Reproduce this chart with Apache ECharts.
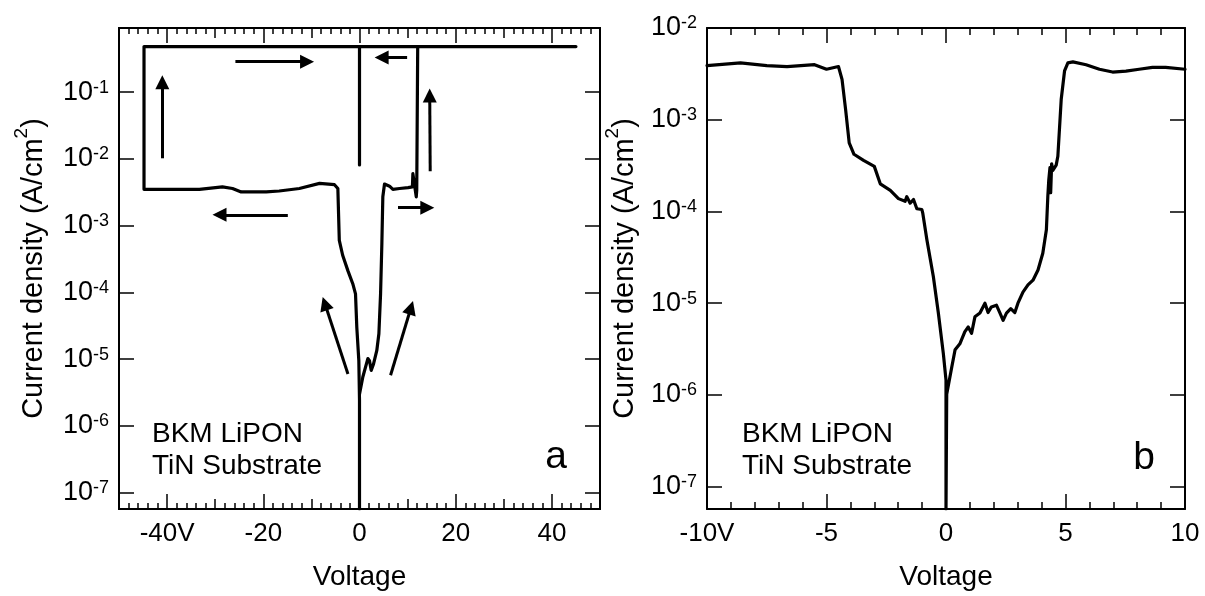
<!DOCTYPE html>
<html>
<head>
<meta charset="utf-8">
<script src="https://cdn.jsdelivr.net/npm/echarts@6.0.0/dist/echarts.min.js"></script>
<style>
  html, body { margin: 0; padding: 0; background: #fff; }
  #main { width: 1205px; height: 596px; }
</style>
</head>
<body>
<div id="main"></div>
<script>
// panel a : voltage sweep +-45 V
var aNegV = [0, 0, -0.14, -0.56, -0.83, -1.4, -2.4, -3.5, -4.2, -4.5, -5.2, -8.3, -12.5, -16.7, -19.4, -24.6, -26.4, -28.5, -33.3, -44.8, -44.8, 45];
var aNegJ = [5.7e-8, 2.4e-6, 9.5e-6, 3.0e-5, 9.5e-5, 1.35e-4, 2.1e-4, 3.6e-4, 6.0e-4, 3.6e-3, 4.1e-3, 4.3e-3, 3.6e-3, 3.3e-3, 3.2e-3, 3.2e-3, 3.6e-3, 3.8e-3, 3.5e-3, 3.5e-3, 0.48, 0.48];
var aPosV = [0, 0.69, 1.74, 2.08, 2.43, 2.92, 3.6, 4.03, 4.38, 4.65, 4.85, 5.2, 6.25, 6.94, 8.33, 10.1, 11.0, 11.1, 11.5, 11.8, 11.9, 12.1];
var aPosJ = [3.0e-6, 5.4e-6, 1.02e-5, 9.5e-6, 6.8e-6, 8.5e-6, 1.35e-5, 2.4e-5, 9.5e-5, 5.4e-4, 2.7e-3, 4.2e-3, 3.9e-3, 3.5e-3, 3.6e-3, 3.7e-3, 3.8e-3, 6.0e-3, 5.8e-3, 2.7e-3, 3.4e-3, 0.48];
var aDropV = [0, 0];
var aDropJ = [0.48, 8.1e-3];
// arrows [V1, J1, V2, J2] (tail -> head)
var aArrows = [
  [-25.8, 0.285, -10.9, 0.285],
  [-41, 0.0102, -41, 0.141],
  [-14.9, 1.45e-3, -29.1, 1.45e-3],
  [9.9, 0.33, 4.6, 0.33],
  [14.7, 6.5e-3, 14.6, 0.089],
  [8.0, 1.86e-3, 14.1, 1.86e-3],
  [-2.4, 6.0e-6, -7.2, 6.8e-5],
  [6.46, 5.75e-6, 10.7, 5.9e-5]
];

// panel b : voltage sweep +-10 V
var bV = [-10, -8.6, -7.5, -6.65, -5.5, -5.0, -4.5, -4.35, -4.2, -4.05, -3.85, -3.45, -3.0, -2.75, -2.33, -1.99, -1.71, -1.64, -1.5, -1.36,
  -1.22, -1.01, -0.97, -0.8, -0.53, -0.32, -0.11, 0, 0,
  0.03, 0.24, 0.38, 0.58, 0.79, 0.93, 1.07, 1.21, 1.42, 1.63, 1.76, 1.9, 2.11, 2.25, 2.39, 2.53, 2.71, 2.88, 3.01, 3.22,
  3.43, 3.64, 3.85, 4.05, 4.2, 4.26, 4.3, 4.35, 4.38, 4.42, 4.47, 4.61, 4.68, 4.82, 4.96, 5.1, 5.31, 5.86, 6.42, 6.97,
  7.53, 8.08, 8.64, 9.19, 10];
var bJ = [3.89e-3, 4.17e-3, 3.89e-3, 3.80e-3, 3.98e-3, 3.55e-3, 3.80e-3, 2.75e-3, 1.29e-3, 5.6e-4, 4.2e-4, 3.6e-4, 3.1e-4, 2.0e-4, 1.7e-4, 1.38e-4, 1.29e-4, 1.45e-4, 1.23e-4, 1.35e-4,
  1.07e-4, 1.05e-4, 9.5e-5, 4.9e-5, 1.95e-5, 7.8e-6, 2.8e-6, 1.45e-6, 5.7e-8,
  1.02e-6, 2.0e-6, 3.1e-6, 3.6e-6, 4.9e-6, 5.5e-6, 4.7e-6, 7.1e-6, 7.8e-6, 1.0e-5, 7.9e-6, 9.1e-6, 9.5e-6, 7.9e-6, 6.5e-6, 7.8e-6, 8.7e-6, 7.9e-6, 1.0e-5, 1.32e-5,
  1.58e-5, 1.78e-5, 2.3e-5, 3.5e-5, 6.3e-5, 1.45e-4, 2.2e-4, 3.0e-4, 1.6e-4, 3.3e-4, 2.8e-4, 3.2e-4, 4.0e-4, 1.66e-3, 3.4e-3, 4.17e-3, 4.27e-3, 3.98e-3, 3.55e-3, 3.31e-3,
  3.39e-3, 3.55e-3, 3.72e-3, 3.72e-3, 3.55e-3];

// ticks
var aXTicks = [-40, -20, 0, 20, 40];
var yDecades = [1e-7, 1e-6, 1e-5, 1e-4, 1e-3, 1e-2, 1e-1];

var FONT = 'Liberation Sans, Arial, sans-serif';

function zip(xs, ys) {
  return xs.map(function (x, i) { return [x, ys[i]]; });
}

function supLabel(v) {
  var e = Math.round(Math.log10(v));
  return '{b|10}{s|' + e + '}';
}
var supRich = {
  b: { fontSize: 27, fontFamily: FONT, color: '#000', lineHeight: 27, padding: [14, 0, 0, 0], verticalAlign: 'bottom' },
  s: { fontSize: 18, fontFamily: FONT, color: '#000', lineHeight: 18, verticalAlign: 'top' }
};

var lineCol = { color: '#000', width: 2 };
var tickCol = { color: '#000', width: 1.5 };

function xAxisMinor(grid, pos, min, max, interval, len, split, minorLen) {
  return {
    type: 'value', gridIndex: grid, position: pos, min: min, max: max, interval: interval,
    axisLine: { show: true, onZero: false, lineStyle: lineCol },
    axisTick: { show: true, inside: true, length: len, lineStyle: tickCol },
    minorTick: { show: true, splitNumber: split, length: minorLen, lineStyle: tickCol },
    axisLabel: { show: false },
    splitLine: { show: false }
  };
}

function yAxisLog(grid, pos, max, withLabel) {
  var decs = yDecades.filter(function (d) { return d <= max * 1.0001; });
  var ax = {
    type: 'log', gridIndex: grid, position: pos, min: 5.7e-8, max: max,
    axisLine: { show: true, onZero: false, lineStyle: lineCol },
    axisTick: { show: true, inside: true, length: 15, lineStyle: tickCol, customValues: decs },
    minorTick: { show: false },
    splitLine: { show: false },
    axisLabel: { show: false }
  };
  if (withLabel) {
    ax.axisLabel = { show: true, margin: 10, formatter: supLabel, rich: supRich, customValues: decs };
    ax.name = 'Current density (A/cm{s|2})';
    ax.nameLocation = 'middle';
    ax.nameRotate = 90;
    ax.nameTextStyle = {
      fontSize: 29, fontFamily: FONT, color: '#000', lineHeight: 44,
      rich: { s: { fontSize: 19, fontFamily: FONT, color: '#000', lineHeight: 19, verticalAlign: 'top' } }
    };
  }
  return ax;
}

var xA = xAxisMinor(0, 'bottom', -50, 50, 10, 10, 5, 6);
var xAmajor = {
  type: 'value', gridIndex: 0, position: 'bottom', min: -50, max: 50,
  axisLine: { show: true, onZero: false, lineStyle: lineCol },
  axisTick: { show: true, inside: true, length: 15, lineStyle: tickCol, customValues: aXTicks },
  axisLabel: {
    show: true, customValues: aXTicks, margin: 12, fontSize: 26, fontFamily: FONT, color: '#000',
    formatter: function (v) { return v === -40 ? '-40V' : String(v); }
  },
  splitLine: { show: false },
  name: 'Voltage', nameLocation: 'middle', nameGap: 54,
  nameTextStyle: { fontSize: 28, fontFamily: FONT, color: '#000' }
};
var xAtop = xAxisMinor(0, 'top', -50, 50, 10, 10, 5, 6);
var xAtopMajor = {
  type: 'value', gridIndex: 0, position: 'top', min: -50, max: 50,
  axisLine: { show: true, onZero: false, lineStyle: lineCol },
  axisTick: { show: true, inside: true, length: 15, lineStyle: tickCol, customValues: aXTicks },
  axisLabel: { show: false },
  splitLine: { show: false }
};
var xB = xAxisMinor(1, 'bottom', -10, 10, 5, 15, 5, 7);
xB.axisLabel = {
  show: true, margin: 12, fontSize: 26, fontFamily: FONT, color: '#000',
  formatter: function (v) { return v === -10 ? '-10V' : String(v); }
};
xB.name = 'Voltage';
xB.nameLocation = 'middle';
xB.nameGap = 54;
xB.nameTextStyle = { fontSize: 28, fontFamily: FONT, color: '#000' };
var xBtop = xAxisMinor(1, 'top', -10, 10, 5, 15, 5, 7);

var yAleft = yAxisLog(0, 'left', 0.912, true);
yAleft.nameGap = 63;
var yAright = yAxisLog(0, 'right', 0.912, false);
var yBleft = yAxisLog(1, 'left', 0.01, true);
yBleft.nameGap = 50;
var yBright = yAxisLog(1, 'right', 0.01, false);

var lineStyle = { color: '#000', width: 3.2, join: 'round', cap: 'round' };

function curve(name, xi, yi, data) {
  return {
    name: name, type: 'line', xAxisIndex: xi, yAxisIndex: yi, data: data,
    showSymbol: false, symbol: 'none', lineStyle: lineStyle, animation: false, silent: true
  };
}

var dropSeries = curve('drop', 0, 0, zip(aDropV, aDropJ));
dropSeries.markLine = {
  silent: true, animation: false,
  symbol: ['none', 'triangle'], symbolSize: 14,
  label: { show: false },
  lineStyle: { color: '#000', width: 3, type: 'solid' },
  itemStyle: { color: '#000' },
  data: aArrows.map(function (a) {
    return [{ coord: [a[0], a[1]] }, { coord: [a[2], a[3]] }];
  })
};

var option = {
  backgroundColor: '#fff',
  animation: false,
  grid: [
    { left: 119, right: 605, top: 28, bottom: 87, outerBoundsMode: 'none' },
    { left: 707, right: 20, top: 28, bottom: 87, outerBoundsMode: 'none' }
  ],
  xAxis: [xA, xAmajor, xAtop, xAtopMajor, xB, xBtop],
  yAxis: [yAleft, yAright, yBleft, yBright],
  series: [
    curve('neg', 0, 0, zip(aNegV, aNegJ)),
    curve('pos', 0, 0, zip(aPosV, aPosJ)),
    dropSeries,
    curve('b', 4, 2, zip(bV, bJ))
  ],
  graphic: [
    { type: 'text', left: 152, top: 418, style: { text: 'BKM LiPON\nTiN Substrate', font: '28px ' + FONT, fill: '#000', lineHeight: 32 } },
    { type: 'text', left: 742, top: 418, style: { text: 'BKM LiPON\nTiN Substrate', font: '28px ' + FONT, fill: '#000', lineHeight: 32 } },
    { type: 'text', right: 638, top: 438, style: { text: 'a', font: '39px ' + FONT, fill: '#000' } },
    { type: 'text', right: 50, top: 439, style: { text: 'b', font: '39px ' + FONT, fill: '#000' } }
  ]
};

var chart = echarts.init(document.getElementById('main'), null, { renderer: 'canvas' });
chart.setOption(option);
</script>
</body>
</html>
